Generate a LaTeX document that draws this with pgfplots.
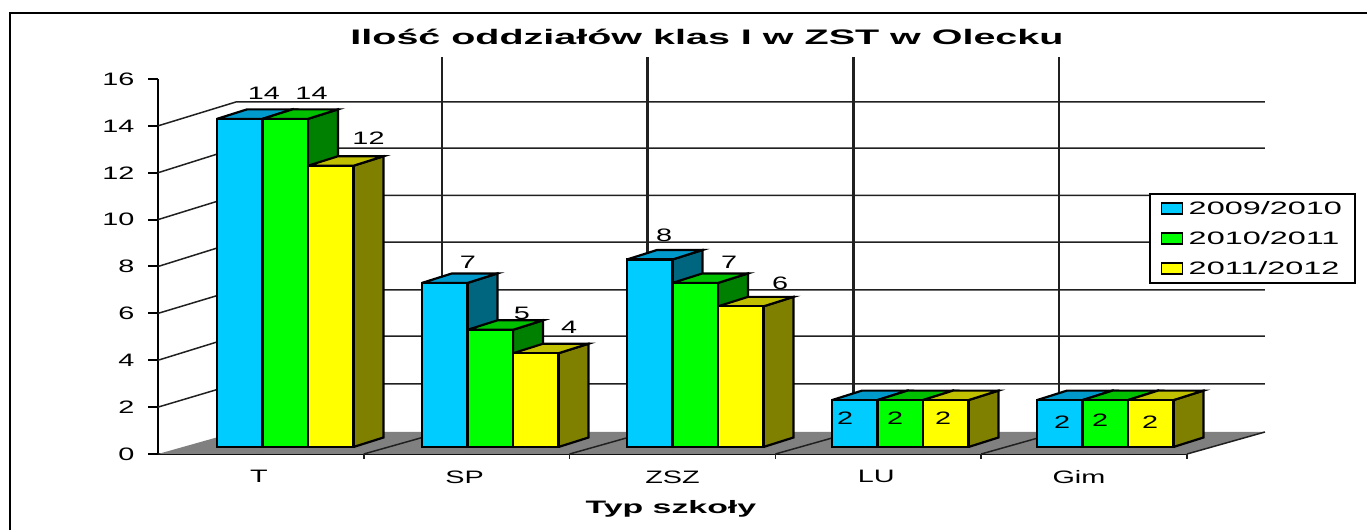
\documentclass[border=0pt]{standalone}
\usepackage{pgfplots}
\pgfplotsset{compat=1.18}
\usepackage{fontspec}
\setmainfont[FakeStretch=1.6]{Liberation Sans}
\newfontfamily\wideb[FakeStretch=1.88]{Liberation Sans Bold}
\newfontfamily\widel[FakeStretch=1.8]{Liberation Sans}
\definecolor{cb}{HTML}{00CCFF}\definecolor{cbt}{HTML}{0099CC}\definecolor{cbs}{HTML}{006680}
\definecolor{cg}{HTML}{00FF00}\definecolor{cgt}{HTML}{00C000}\definecolor{cgs}{HTML}{008000}
\definecolor{cy}{HTML}{FFFF00}\definecolor{cyt}{HTML}{C0C000}\definecolor{cys}{HTML}{808000}
\definecolor{gridc}{HTML}{202020}
% side and top faces of a bar: #1 left edge, #2 right edge, #3 value, #4 side colour, #5 top colour
\newcommand{\barfaces}[5]{%
  \pgfmathsetmacro{\xa}{#1}\pgfmathsetmacro{\xb}{#2}%
  \pgfmathsetmacro{\xc}{#2+0.1463}\pgfmathsetmacro{\xd}{#1+0.1463}%
  \pgfmathsetmacro{\yt}{#3+0.405}%
  \addplot[forget plot,fill=#4,draw=black,line width=2.2pt] coordinates {(\xb,0) (\xc,0.405) (\xc,\yt) (\xb,#3) (\xb,0)};
  \addplot[forget plot,fill=#5,draw=black,line width=2.2pt] coordinates {(\xa,#3) (\xd,\yt) (\xc,\yt) (\xb,#3) (\xa,#3)};
}
\newcommand{\lab}[3]{\node[font=\fontsize{18}{18}\selectfont,inner sep=0pt] at (#1pt,{530pt-#2pt}) {#3};}
\begin{document}
\begin{tikzpicture}[x=1pt,y=1pt]
\path[use as bounding box] (0,0) rectangle (1367,530);
\draw[black,line width=2.5pt] (10,0) -- (10,517) -- (1367,517);
% main axis: y axis, floor, grid
\begin{axis}[
  at={(158pt,76pt)},anchor=south west,scale only axis,width=1029pt,height=375pt,
  xmin=0,xmax=5,ymin=0,ymax=16,clip=false,
  axis x line*=bottom,axis y line*=left,
  axis line style={line width=2.5pt,black,-},
  xtick={0.49,1.49,2.5,3.49,4.475},xticklabels={T,SP,ZSZ,LU,Gim},
  xtick style={draw=none},
  ytick={0,2,...,16},
  ytick style={line width=2pt,black},
  tick align=outside,major tick length=10pt,
  /pgf/number format/assume math mode=true,
  tick label style={font=\fontsize{18}{18}\selectfont},
  yticklabel style={xshift=-10pt},
  xticklabel style={yshift=-3pt},
  title={Ilość oddziałów klas I w ZST w Olecku},
  title style={font=\fontsize{21}{21}\selectfont\wideb,at={(axis description cs:0.5335,1.095)},anchor=center},
  xlabel={Typ szkoły},
  xlabel style={font=\fontsize{18}{18}\selectfont\wideb,at={(axis description cs:0.4985,-0.146)},anchor=center},
]
\addplot[forget plot,fill=gray!100,draw=none] coordinates {(0,0) (0.379,0.939) (5.379,0.939) (5,0) (0,0)};
% floor lines
\addplot[forget plot,gridc,line width=1.5pt] coordinates {(1,0) (1,-0.22)};
\addplot[forget plot,gridc,line width=1.5pt] coordinates {(2,0) (2,-0.22)};
\addplot[forget plot,gridc,line width=1.5pt] coordinates {(3,0) (3,-0.22)};
\addplot[forget plot,gridc,line width=1.5pt] coordinates {(4,0) (4,-0.22)};
\addplot[forget plot,gridc,line width=1.5pt] coordinates {(5,0) (5,-0.22)};
\addplot[forget plot,gridc,line width=1.5pt] coordinates {(1,0) (1.379,0.939)};
\addplot[forget plot,gridc,line width=1.5pt] coordinates {(2,0) (2.379,0.939)};
\addplot[forget plot,gridc,line width=1.5pt] coordinates {(3,0) (3.379,0.939)};
\addplot[forget plot,gridc,line width=1.5pt] coordinates {(4,0) (4.379,0.939)};
\addplot[forget plot,gridc,line width=1.5pt] coordinates {(5,0) (5.379,0.939)};
% back wall
\addplot[forget plot,gridc,line width=2.5pt] coordinates {(1.379,0.939) (1.379,16.939)};
\addplot[forget plot,gridc,line width=2.5pt] coordinates {(2.379,0.939) (2.379,16.939)};
\addplot[forget plot,gridc,line width=2.5pt] coordinates {(3.379,0.939) (3.379,16.939)};
\addplot[forget plot,gridc,line width=2.5pt] coordinates {(4.379,0.939) (4.379,16.939)};
\addplot[forget plot,gridc,line width=1.5pt] coordinates {(0,2) (0.379,2.99) (5.379,2.99)};
\addplot[forget plot,gridc,line width=1.5pt] coordinates {(0,4) (0.379,5.03) (5.379,5.03)};
\addplot[forget plot,gridc,line width=1.5pt] coordinates {(0,6) (0.379,7.0) (5.379,7.0)};
\addplot[forget plot,gridc,line width=1.5pt] coordinates {(0,8) (0.379,9.04) (5.379,9.04)};
\addplot[forget plot,gridc,line width=1.5pt] coordinates {(0,10) (0.379,11.03) (5.379,11.03)};
\addplot[forget plot,gridc,line width=1.5pt] coordinates {(0,12) (0.379,13.05) (5.379,13.05)};
\addplot[forget plot,gridc,line width=1.5pt] coordinates {(0,14) (0.379,15.02) (5.379,15.02)};
\end{axis}
% bars axis
\begin{axis}[
  at={(217pt,83pt)},anchor=south west,scale only axis,width=1025pt,height=375pt,
  xmin=0,xmax=5,ymin=0,ymax=16,clip=false,hide axis,
  legend style={at={(0.9093,0.6773)},anchor=north west,draw=black,line width=2pt,fill=white,
    font=\fontsize{18}{18}\selectfont\widel,inner xsep=11pt,inner ysep=5pt,row sep=11.5pt,
    cells={anchor=west}},
  legend image code/.code={\draw[#1,line width=1.5pt] (0pt,-5.5pt) rectangle (21pt,5.5pt);\path[draw=none,fill=none] (0pt,0pt) -- (25pt,0pt);},
]
\barfaces{0}{0.22195}{14}{cbs}{cbt}
\barfaces{1}{1.22195}{7}{cbs}{cbt}
\barfaces{2}{2.22195}{8}{cbs}{cbt}
\barfaces{3}{3.22195}{2}{cbs}{cbt}
\barfaces{4}{4.22195}{2}{cbs}{cbt}
\addplot[ybar,bar width=45.5pt,bar shift=22.75pt,fill=cb,draw=black,line width=2.2pt] coordinates {(0,14) (1,7) (2,8) (3,2) (4,2)};
\addlegendentry{2009/2010}
\barfaces{0.22195}{0.4439}{14}{cgs}{cgt}
\barfaces{1.22195}{1.4439}{5}{cgs}{cgt}
\barfaces{2.22195}{2.4439}{7}{cgs}{cgt}
\barfaces{3.22195}{3.4439}{2}{cgs}{cgt}
\barfaces{4.22195}{4.4439}{2}{cgs}{cgt}
\addplot[ybar,bar width=45.5pt,bar shift=68.25pt,fill=cg,draw=black,line width=2.2pt] coordinates {(0,14) (1,5) (2,7) (3,2) (4,2)};
\addlegendentry{2010/2011}
\barfaces{0.4439}{0.66585}{12}{cys}{cyt}
\barfaces{1.4439}{1.66585}{4}{cys}{cyt}
\barfaces{2.4439}{2.66585}{6}{cys}{cyt}
\barfaces{3.4439}{3.66585}{2}{cys}{cyt}
\barfaces{4.4439}{4.66585}{2}{cys}{cyt}
\addplot[ybar,bar width=45.5pt,bar shift=113.75pt,fill=cy,draw=black,line width=2.2pt] coordinates {(0,12) (1,4) (2,6) (3,2) (4,2)};
\addlegendentry{2011/2012}
\end{axis}
\lab{264}{93}{14}\lab{311.5}{93}{14}\lab{368.5}{138}{12}
\lab{468}{262}{7}\lab{522}{313}{5}\lab{569}{327}{4}
\lab{664}{235}{8}\lab{729}{262}{7}\lab{780}{283}{6}
\lab{845}{418}{2}\lab{895}{418}{2}\lab{943}{418}{2}
\lab{1062}{422}{2}\lab{1100}{420}{2}\lab{1150}{422}{2}
\end{tikzpicture}
\end{document}
